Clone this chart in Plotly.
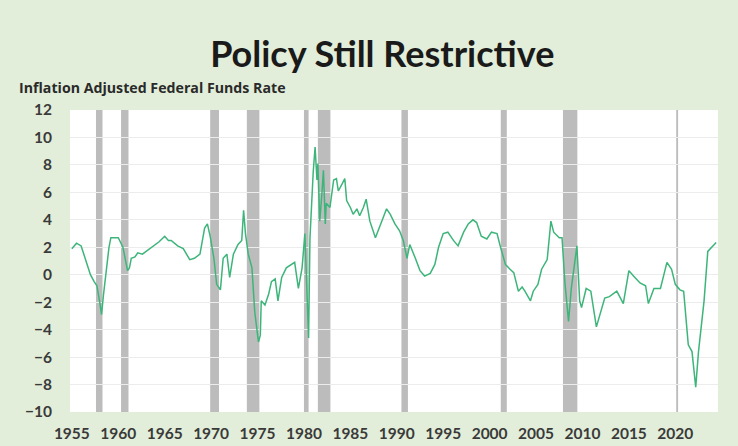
import plotly.graph_objects as go

# Inflation-adjusted federal funds rate (decimal year, %)
years = [1955.0, 1955.5, 1956.0, 1956.5, 1957.0, 1957.4, 1957.7, 1958.0, 1958.2, 1958.4,
         1958.7, 1959.0, 1959.2, 1959.6, 1960.0, 1960.5, 1960.8, 1961.0, 1961.2, 1961.4,
         1961.8, 1962.1, 1962.6, 1963.2, 1963.6, 1963.9, 1964.4, 1965.0, 1965.4, 1965.7,
         1966.1, 1966.4, 1967.0, 1967.4, 1967.7, 1968.2, 1968.8, 1969.3, 1969.6, 1969.9,
         1970.3, 1970.6, 1971.0, 1971.3, 1971.7, 1972.0, 1972.4, 1972.9, 1973.3, 1973.5,
         1973.7, 1974.0, 1974.4, 1974.7, 1975.1, 1975.3, 1975.4, 1975.8, 1976.2, 1976.5,
         1976.9, 1977.2, 1977.6, 1978.1, 1978.7, 1979.0, 1979.4, 1979.8, 1980.1, 1980.3,
         1980.5, 1980.65, 1980.8, 1981.0, 1981.2, 1981.4, 1981.5, 1981.7, 1981.9, 1982.1,
         1982.3, 1982.4, 1982.8, 1983.2, 1983.5, 1983.7, 1984.1, 1984.4, 1984.6, 1985.0,
         1985.3, 1985.7, 1986.0, 1986.4, 1986.7, 1987.1, 1987.7, 1988.0, 1988.4, 1988.9,
         1989.3, 1989.8, 1990.3, 1990.7, 1991.1, 1991.4, 1992.0, 1992.5, 1993.0, 1993.6,
         1994.1, 1994.5, 1995.0, 1995.5, 1996.1, 1996.6, 1997.2, 1997.7, 1998.2, 1998.6,
         1999.1, 1999.7, 2000.2, 2000.8, 2001.1, 2001.7, 2002.2, 2002.6, 2003.1, 2003.5,
         2003.8, 2004.4, 2004.7, 2005.2, 2005.6, 2006.2, 2006.6, 2006.9, 2007.5, 2007.8,
         2008.1, 2008.5, 2008.8, 2009.4, 2009.7, 2009.9, 2010.4, 2010.9, 2011.5, 2012.0,
         2012.4, 2012.9, 2013.7, 2014.4, 2015.0, 2015.5, 2016.2, 2016.8, 2017.1, 2017.7,
         2018.4, 2019.1, 2019.6, 2020.0, 2020.5, 2020.9, 2021.4, 2021.8, 2022.2, 2022.5,
         2023.1, 2023.5, 2024.0, 2024.4]
real_rate = [1.9, 2.3, 2.1, 1.0, 0.0, -0.5, -0.8, -2.0, -2.9, -1.5,
             0.5, 2.0, 2.7, 2.7, 2.7, 2.0, 1.0, 0.3, 0.5, 1.2,
             1.3, 1.6, 1.5, 1.8, 2.0, 2.1, 2.4, 2.8, 2.5, 2.5,
             2.3, 2.1, 1.9, 1.4, 1.1, 1.2, 1.5, 3.4, 3.7, 2.8,
             1.2, -0.7, -1.1, 1.2, 1.5, -0.2, 1.5, 2.2, 2.5, 4.7,
             3.0, 1.5, 0.5, -2.7, -4.9, -4.4, -1.9, -2.2, -1.4, -0.5,
             -0.3, -1.9, -0.2, 0.5, 0.8, 0.9, -1.0, 0.5, 3.0, -1.4,
             -4.6, 2.7, 5.0, 7.5, 9.3, 6.9, 8.1, 3.9, 5.6, 7.6,
             3.7, 5.2, 4.9, 6.9, 7.0, 6.1, 6.6, 7.0, 5.4, 4.9,
             4.4, 4.8, 4.3, 4.9, 5.5, 3.9, 2.7, 3.2, 3.9, 4.8,
             4.4, 3.7, 3.2, 2.5, 1.2, 2.2, 1.2, 0.3, -0.1, 0.1,
             0.75, 2.0, 3.0, 3.1, 2.5, 2.1, 3.1, 3.7, 4.0, 3.8,
             2.8, 2.6, 3.1, 3.0, 2.2, 0.75, 0.4, 0.15, -1.2, -0.9,
             -1.2, -1.9, -1.2, -0.7, 0.4, 1.1, 3.9, 3.1, 2.7, 2.7,
             -0.5, -3.4, -1.0, 2.1, -1.9, -2.4, -1.0, -1.2, -3.8, -2.7,
             -1.7, -1.6, -1.2, -2.1, 0.3, -0.1, -0.6, -0.8, -2.1, -1.0,
             -1.0, 0.9, 0.4, -0.7, -1.1, -1.2, -5.1, -5.6, -8.2, -5.6,
             -1.9, 1.7, 2.1, 2.35]

# NBER recessions (decimal years)
rec_start = [1957.6, 1960.3, 1969.9, 1973.85, 1980.0, 1981.5, 1990.5, 2001.2, 2007.9, 2020.1]
rec_end = [1958.3, 1961.1, 1970.85, 1975.2, 1980.5, 1982.85, 1991.2, 2001.85, 2009.45, 2020.3]

x_ticks = [1955, 1960, 1965, 1970, 1975, 1980, 1985, 1990, 1995, 2000, 2005, 2010, 2015, 2020]
y_ticks = [-10, -8, -6, -4, -2, 0, 2, 4, 6, 8, 10, 12]

fig = go.Figure()
fig.add_trace(go.Scatter(x=years, y=real_rate, mode="lines",
                         line=dict(color="#3db57a", width=1.5), showlegend=False))

for s, e in zip(rec_start, rec_end):
    fig.add_shape(type="rect", xref="x", yref="paper", x0=s, x1=e, y0=0, y1=1,
                  fillcolor="#bcbcbc", line=dict(width=0), layer="below")

tick_font = dict(family="Lato", size=15.5, color="#3a3a3a", weight="bold")
fig.update_layout(
    width=738, height=446,
    margin=dict(l=70, r=20, t=110, b=34),
    paper_bgcolor="#e2eed9", plot_bgcolor="#ffffff",
    title=dict(text="<b>Policy Still Restrictive</b>", x=0.518, xanchor="center",
               y=0.877, yanchor="middle",
               font=dict(family="Lato", size=36, color="#1a1a1a")),
    annotations=[dict(text="<b>Inflation Adjusted Federal Funds Rate</b>", xref="paper",
                      yref="paper", x=-0.082, y=1.075, xanchor="left", yanchor="middle",
                      showarrow=False, font=dict(family="Open Sans", size=14.2, color="#2a2a2a"))],
    xaxis=dict(range=[1954.8, 2024.6], tickvals=x_ticks, ticktext=[str(t) for t in x_ticks],
               showgrid=False, zeroline=False, showline=False, ticks="", automargin=False,
               ticklabelstandoff=10, tickfont=tick_font),
    yaxis=dict(range=[-10, 12], tickvals=y_ticks, showgrid=True, gridcolor="#ececec",
               gridwidth=1, zeroline=False, showline=False, ticks="", automargin=False,
               ticklabelstandoff=17, tickfont=tick_font),
)

fig.write_html("out.html")
